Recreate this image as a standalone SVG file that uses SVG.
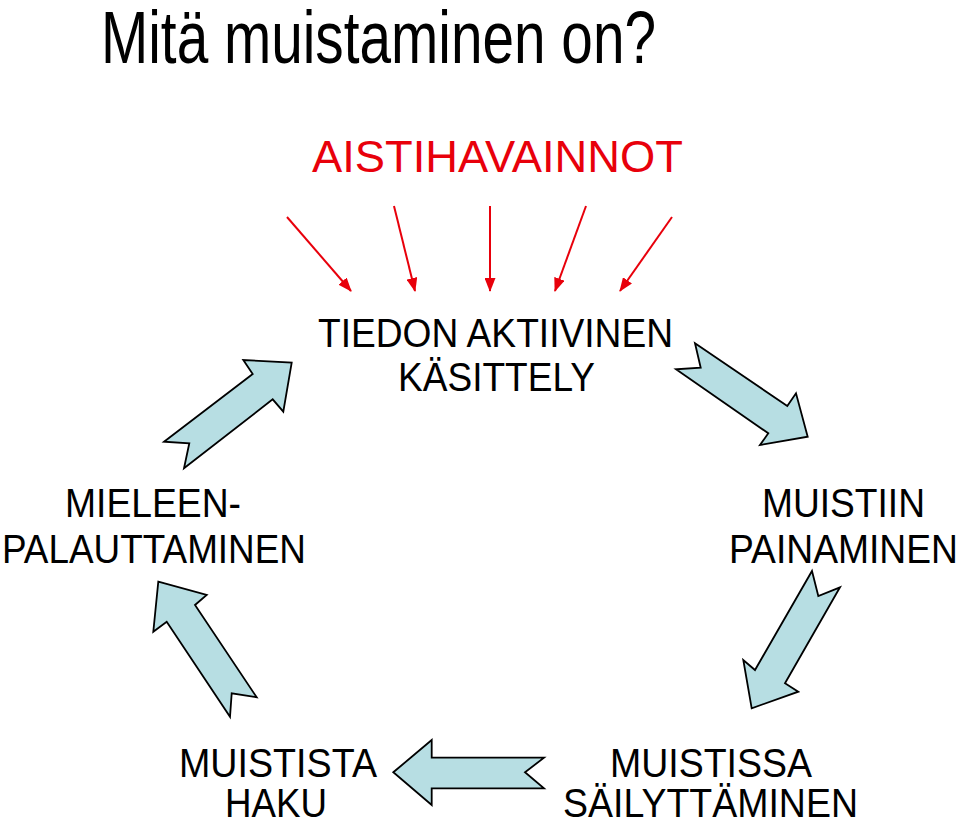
<svg xmlns="http://www.w3.org/2000/svg" width="960" height="822" viewBox="0 0 960 822">
<style>
text{font-family:"Liberation Sans",Arial,sans-serif;fill:#000;}
.red{fill:#e8000b;}
.blk{fill:#b7dee3;stroke:#000;stroke-width:1.8;stroke-linejoin:miter;}
.ray{stroke:#e8000b;stroke-width:2;fill:none;marker-end:url(#ah);}
</style>
<defs>
<marker id="ah" viewBox="0 0 14 11" refX="13" refY="5.5" markerWidth="14" markerHeight="11" markerUnits="userSpaceOnUse" orient="auto">
<path d="M0,0 L14,5.5 L0,11 Z" fill="#e8000b"/>
</marker>
</defs>
<rect width="960" height="822" fill="#fff"/>
<g id="title"><text x="101" y="63" font-size="74" textLength="555" lengthAdjust="spacingAndGlyphs">Mitä muistaminen on?</text></g>
<g id="aistihavainnot"><text class="red" x="312" y="172" font-size="45" textLength="371" lengthAdjust="spacingAndGlyphs">AISTIHAVAINNOT</text></g>
<g id="kasittely">
<text x="318" y="347" font-size="41" textLength="355" lengthAdjust="spacingAndGlyphs">TIEDON AKTIIVINEN</text>
<text x="398" y="391" font-size="41" textLength="197" lengthAdjust="spacingAndGlyphs">KÄSITTELY</text>
</g>
<g id="painaminen">
<text x="762" y="517" font-size="41" textLength="163" lengthAdjust="spacingAndGlyphs">MUISTIIN</text>
<text x="729" y="563" font-size="41" textLength="229" lengthAdjust="spacingAndGlyphs">PAINAMINEN</text>
</g>
<g id="sailyttaminen">
<text x="610" y="777" font-size="41" textLength="202" lengthAdjust="spacingAndGlyphs">MUISTISSA</text>
<text x="563" y="817" font-size="41" textLength="295" lengthAdjust="spacingAndGlyphs">SÄILYTTÄMINEN</text>
</g>
<g id="haku">
<text x="179" y="777" font-size="41" textLength="198" lengthAdjust="spacingAndGlyphs">MUISTISTA</text>
<text x="225" y="817" font-size="41" textLength="102" lengthAdjust="spacingAndGlyphs">HAKU</text>
</g>
<g id="palauttaminen">
<text x="65" y="517" font-size="41" textLength="176" lengthAdjust="spacingAndGlyphs">MIELEEN-</text>
<text x="2" y="563" font-size="41" textLength="304" lengthAdjust="spacingAndGlyphs">PALAUTTAMINEN</text>
</g>
<g id="connectors">
<line class="ray" x1="287" y1="217" x2="351" y2="291"/>
<line class="ray" x1="394" y1="206" x2="415" y2="291"/>
<line class="ray" x1="490" y1="206" x2="490" y2="291"/>
<line class="ray" x1="586" y1="206" x2="555" y2="291"/>
<line class="ray" x1="672" y1="217" x2="620" y2="291"/>
<polygon class="blk" points="164,441.7 252.7,374 243.3,360 291.7,362.7 283.3,411.7 272.7,399.3 184,468.3 189.3,443.3"/>
<polygon class="blk" points="695,343.3 787.3,406 796,393.3 807.7,436.7 760,445 768.3,433.3 676,369.3 700.7,367.7"/>
<polygon class="blk" points="812,571 818.3,596 840,587.3 785,683.3 798.3,691.7 751.7,708.3 743.3,660 755,670"/>
<polygon class="blk" points="158.3,581.7 206.7,595 195,605 256.7,697.3 231.7,693.3 230,716.7 166.7,621.7 153.3,631.7"/>
<polygon class="blk" points="393.3,772.3 431.7,740 431.7,757.7 544,757.7 525,772.3 544,788.3 431.7,788.3 431.7,805"/>
</g>
</svg>
